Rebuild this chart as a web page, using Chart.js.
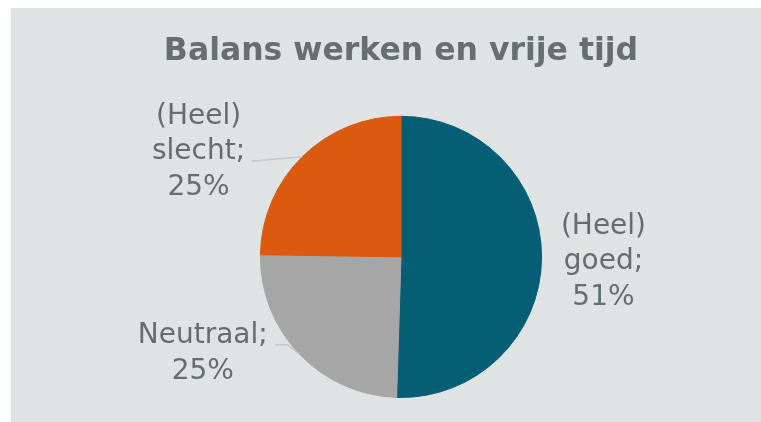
<!DOCTYPE html>
<html>
<head>
<meta charset="utf-8">
<script src="https://cdn.jsdelivr.net/npm/chart.js@4.4.1/dist/chart.umd.min.js"></script>
<style>
  html, body { margin: 0; padding: 0; background: #ffffff; }
  #wrap { position: absolute; left: 11px; top: 8px; width: 750px; height: 414px; background: #dfe3e4; }
  canvas { display: block; }
</style>
</head>
<body>
<div id="wrap"><canvas id="c" width="750" height="414"></canvas></div>
<script>
const title = 'Balans werken en vrije tijd';
const categories = ['(Heel) goed', 'Neutraal', '(Heel) slecht'];
const labelLines = [['(Heel)', 'goed;', '51%'], ['Neutraal;', '25%'], ['(Heel)', 'slecht;', '25%']];
const values = [51, 25, 25];
const colors = ['#065e74', '#a6a6a6', '#dc5910'];

const labelPlugin = {
  id: 'sliceLabels',
  afterDatasetsDraw(chart, args, opts) {
    const ctx = chart.ctx;
    const meta = chart.getDatasetMeta(0);
    ctx.save();
    meta.data.forEach((arc, i) => {
      const p = arc.getProps(['x', 'y', 'startAngle', 'endAngle', 'outerRadius'], true);
      const r = p.outerRadius;
      const cfg = opts.items[i];
      if (cfg.leader) {
        const mid = (p.startAngle + p.endAngle) / 2;
        ctx.beginPath();
        ctx.strokeStyle = opts.leaderColor;
        ctx.lineWidth = 1.5;
        cfg.leader.forEach((pt, k) => {
          const x = p.x + pt[0] * r, y = p.y + pt[1] * r;
          if (k === 0) ctx.moveTo(x, y); else ctx.lineTo(x, y);
        });
        ctx.lineTo(p.x + Math.cos(mid) * r, p.y + Math.sin(mid) * r);
        ctx.stroke();
      }
      const cx = p.x + cfg.pos[0] * r;
      const cy = p.y + cfg.pos[1] * r;
      const lines = labelLines[i];
      ctx.fillStyle = opts.color;
      ctx.font = opts.font;
      ctx.textAlign = 'center';
      ctx.textBaseline = 'middle';
      const lh = opts.lineHeight;
      const top = cy - (lines.length - 1) * lh / 2;
      lines.forEach((t, k) => ctx.fillText(t, cx, top + k * lh));
    });
    ctx.restore();
  }
};

new Chart(document.getElementById('c'), {
  type: 'pie',
  data: {
    labels: categories,
    datasets: [{
      data: values,
      backgroundColor: colors,
      borderColor: colors,
      borderWidth: 1
    }]
  },
  options: {
    responsive: false,
    animation: false,
    layout: { padding: { left: 30, right: 0, top: 0, bottom: 24 } },
    plugins: {
      legend: { display: false },
      tooltip: { enabled: false },
      title: {
        display: true,
        text: title,
        color: '#656e70',
        font: { family: 'DejaVu Sans', size: 31.5, weight: 'bold', lineHeight: 1.2 },
        padding: { top: 25, bottom: 45 }
      },
      sliceLabels: {
        color: '#646d70',
        font: '28px "DejaVu Sans"',
        lineHeight: 35.5,
        leaderColor: '#c4c8c9',
        items: [
          { pos: [1.44, 0.035] },
          { pos: [-1.41, 0.69], leader: [[-0.894, 0.624], [-0.809, 0.624]] },
          { pos: [-1.44, -0.745], leader: [[-1.064, -0.681]] }
        ]
      }
    }
  },
  plugins: [labelPlugin]
});
</script>
</body>
</html>
